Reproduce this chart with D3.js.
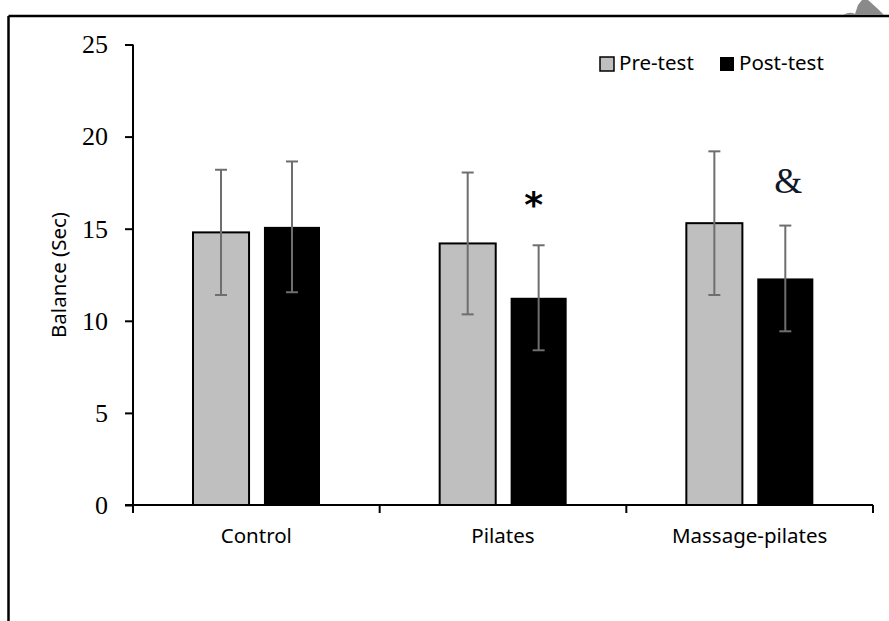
<!DOCTYPE html>
<html>
<head>
<meta charset="utf-8">
<script src="https://cdn.jsdelivr.net/npm/d3@7"></script>
<style>
  body { margin: 0; background: #fff; }
  svg { display: block; }
</style>
</head>
<body>
<div id="chart"></div>
<script>
// balance scores
var categories = ["Control", "Pilates", "Massage-pilates"];
var groups = ["Pre-test", "Post-test"];
var preMean = [14.8, 14.2, 15.3];
var preSD = [3.4, 3.85, 3.9];
var postMean = [15.1, 11.25, 12.3];
var postSD = [3.55, 2.85, 2.87];
var marks = ["", "*", "&"];
var yTicks = [0, 5, 10, 15, 20, 25];

var w = 889, h = 621;
var plotLeft = 133, plotRight = 873, plotTop = 44.5, plotBottom = 505;

var svg = d3.select("#chart").append("svg")
    .attr("width", w)
    .attr("height", h);

// outer frame (top + left edge only visible)
svg.append("line")
    .attr("x1", 8.5).attr("y1", 16).attr("x2", w).attr("y2", 16)
    .attr("stroke", "#000").attr("stroke-width", 2.5);
svg.append("line")
    .attr("x1", 8.5).attr("y1", 16).attr("x2", 8.5).attr("y2", h)
    .attr("stroke", "#000").attr("stroke-width", 2.5);

// bit of watermark in the corner
svg.append("path")
    .attr("d", "M843,15 Q850,11 855,14 L858,5 L862,0 L868,0 L878,9 L884,15 Z")
    .attr("fill", "#8a8a8a");

var x = d3.scaleBand().domain(categories).range([plotLeft, plotRight]).padding(0);
var xi = d3.scaleBand().domain(groups).range([60, 187]).paddingInner(0.21);
var y = d3.scaleLinear().domain([0, 25]).range([plotBottom, plotTop]);

// y axis
var yAxis = svg.append("g")
    .attr("transform", "translate(" + plotLeft + ",0)")
    .call(d3.axisLeft(y).tickValues(yTicks).tickSize(8).tickPadding(17));
yAxis.select(".domain").attr("stroke-width", 2).attr("d", "M0," + plotTop + "V" + (plotBottom + 8));
yAxis.selectAll(".tick line").attr("stroke-width", 2);
yAxis.selectAll(".tick text")
    .attr("font-family", "'Liberation Serif', serif")
    .attr("font-size", 26)
    .attr("fill", "#000");

// x axis
var xAxis = svg.append("g")
    .attr("transform", "translate(0," + plotBottom + ")");
xAxis.append("line")
    .attr("x1", plotLeft - 8).attr("x2", plotRight)
    .attr("stroke", "#000").attr("stroke-width", 2);
xAxis.selectAll(".xt")
    .data(categories.concat(["end"]))
    .enter().append("line")
    .attr("x1", function(d) { return d === "end" ? plotRight : x(d); })
    .attr("x2", function(d) { return d === "end" ? plotRight : x(d); })
    .attr("y1", 0).attr("y2", 8)
    .attr("stroke", "#000").attr("stroke-width", 2);
xAxis.selectAll(".xl")
    .data(categories)
    .enter().append("text")
    .attr("x", function(d) { return x(d) + x.bandwidth() / 2; })
    .attr("y", 38)
    .attr("text-anchor", "middle")
    .attr("font-family", "'Noto Sans', sans-serif")
    .attr("font-size", 20.5)
    .attr("fill", "#000")
    .text(function(d) { return d; });

// y label
svg.append("text")
    .attr("transform", "translate(66,275) rotate(-90)")
    .attr("text-anchor", "middle")
    .attr("font-family", "'Noto Sans', sans-serif")
    .attr("font-size", 20.5)
    .attr("fill", "#000")
    .text("Balance (Sec)");

var rows = categories.map(function(c, i) {
    return [
        { cat: c, g: "Pre-test", m: preMean[i], sd: preSD[i], mark: "" },
        { cat: c, g: "Post-test", m: postMean[i], sd: postSD[i], mark: marks[i] }
    ];
});
var flat = [].concat.apply([], rows);

var bar = svg.selectAll(".bar")
    .data(flat)
    .enter().append("g")
    .attr("class", "bar");

bar.append("rect")
    .attr("x", function(d) { return x(d.cat) + xi(d.g); })
    .attr("y", function(d) { return y(d.m); })
    .attr("width", xi.bandwidth())
    .attr("height", function(d) { return y(0) - y(d.m); })
    .attr("fill", function(d) { return d.g === "Pre-test" ? "#bfbfbf" : "#000"; })
    .attr("stroke", "#000")
    .attr("stroke-width", function(d) { return d.g === "Pre-test" ? 2 : 0; });

// error bars
var cx = function(d) { return x(d.cat) + xi(d.g) + xi.bandwidth() / 2; };
bar.append("line")
    .attr("x1", cx).attr("x2", cx)
    .attr("y1", function(d) { return y(d.m + d.sd); })
    .attr("y2", function(d) { return y(d.m - d.sd); })
    .attr("stroke", "#6e6e6e").attr("stroke-width", 2);
[1, -1].forEach(function(s) {
    bar.append("line")
        .attr("x1", function(d) { return cx(d) - 6; })
        .attr("x2", function(d) { return cx(d) + 6; })
        .attr("y1", function(d) { return y(d.m + s * d.sd); })
        .attr("y2", function(d) { return y(d.m + s * d.sd); })
        .attr("stroke", "#6e6e6e").attr("stroke-width", 2);
});

// significance marks
bar.filter(function(d) { return d.mark === "*"; })
    .append("text")
    .attr("x", function(d) { return cx(d) - 5; })
    .attr("y", function(d) { return y(d.m + d.sd) - 28; })
    .attr("text-anchor", "middle")
    .attr("font-family", "'DejaVu Sans', sans-serif")
    .attr("font-weight", "bold")
    .attr("font-size", 36)
    .attr("fill", "#000")
    .text(function(d) { return d.mark; });
bar.filter(function(d) { return d.mark === "&"; })
    .append("text")
    .attr("x", function(d) { return cx(d) + 3; })
    .attr("y", function(d) { return y(d.m + d.sd) - 33; })
    .attr("text-anchor", "middle")
    .attr("font-family", "'Liberation Serif', serif")
    .attr("font-size", 36)
    .attr("fill", "#101828")
    .text(function(d) { return d.mark; });

// legend
var leg = svg.selectAll(".leg")
    .data(groups)
    .enter().append("g")
    .attr("transform", function(d, i) { return "translate(" + (600 + i * 120) + ",57)"; });
leg.append("rect")
    .attr("width", 14).attr("height", 14)
    .attr("fill", function(d) { return d === "Pre-test" ? "#bfbfbf" : "#000"; })
    .attr("stroke", "#000")
    .attr("stroke-width", function(d) { return d === "Pre-test" ? 1.5 : 0; });
leg.append("text")
    .attr("x", 19).attr("y", 13)
    .attr("font-family", "'Noto Sans', sans-serif")
    .attr("font-size", 20.5)
    .attr("fill", "#000")
    .text(function(d) { return d; });
</script>
</body>
</html>
